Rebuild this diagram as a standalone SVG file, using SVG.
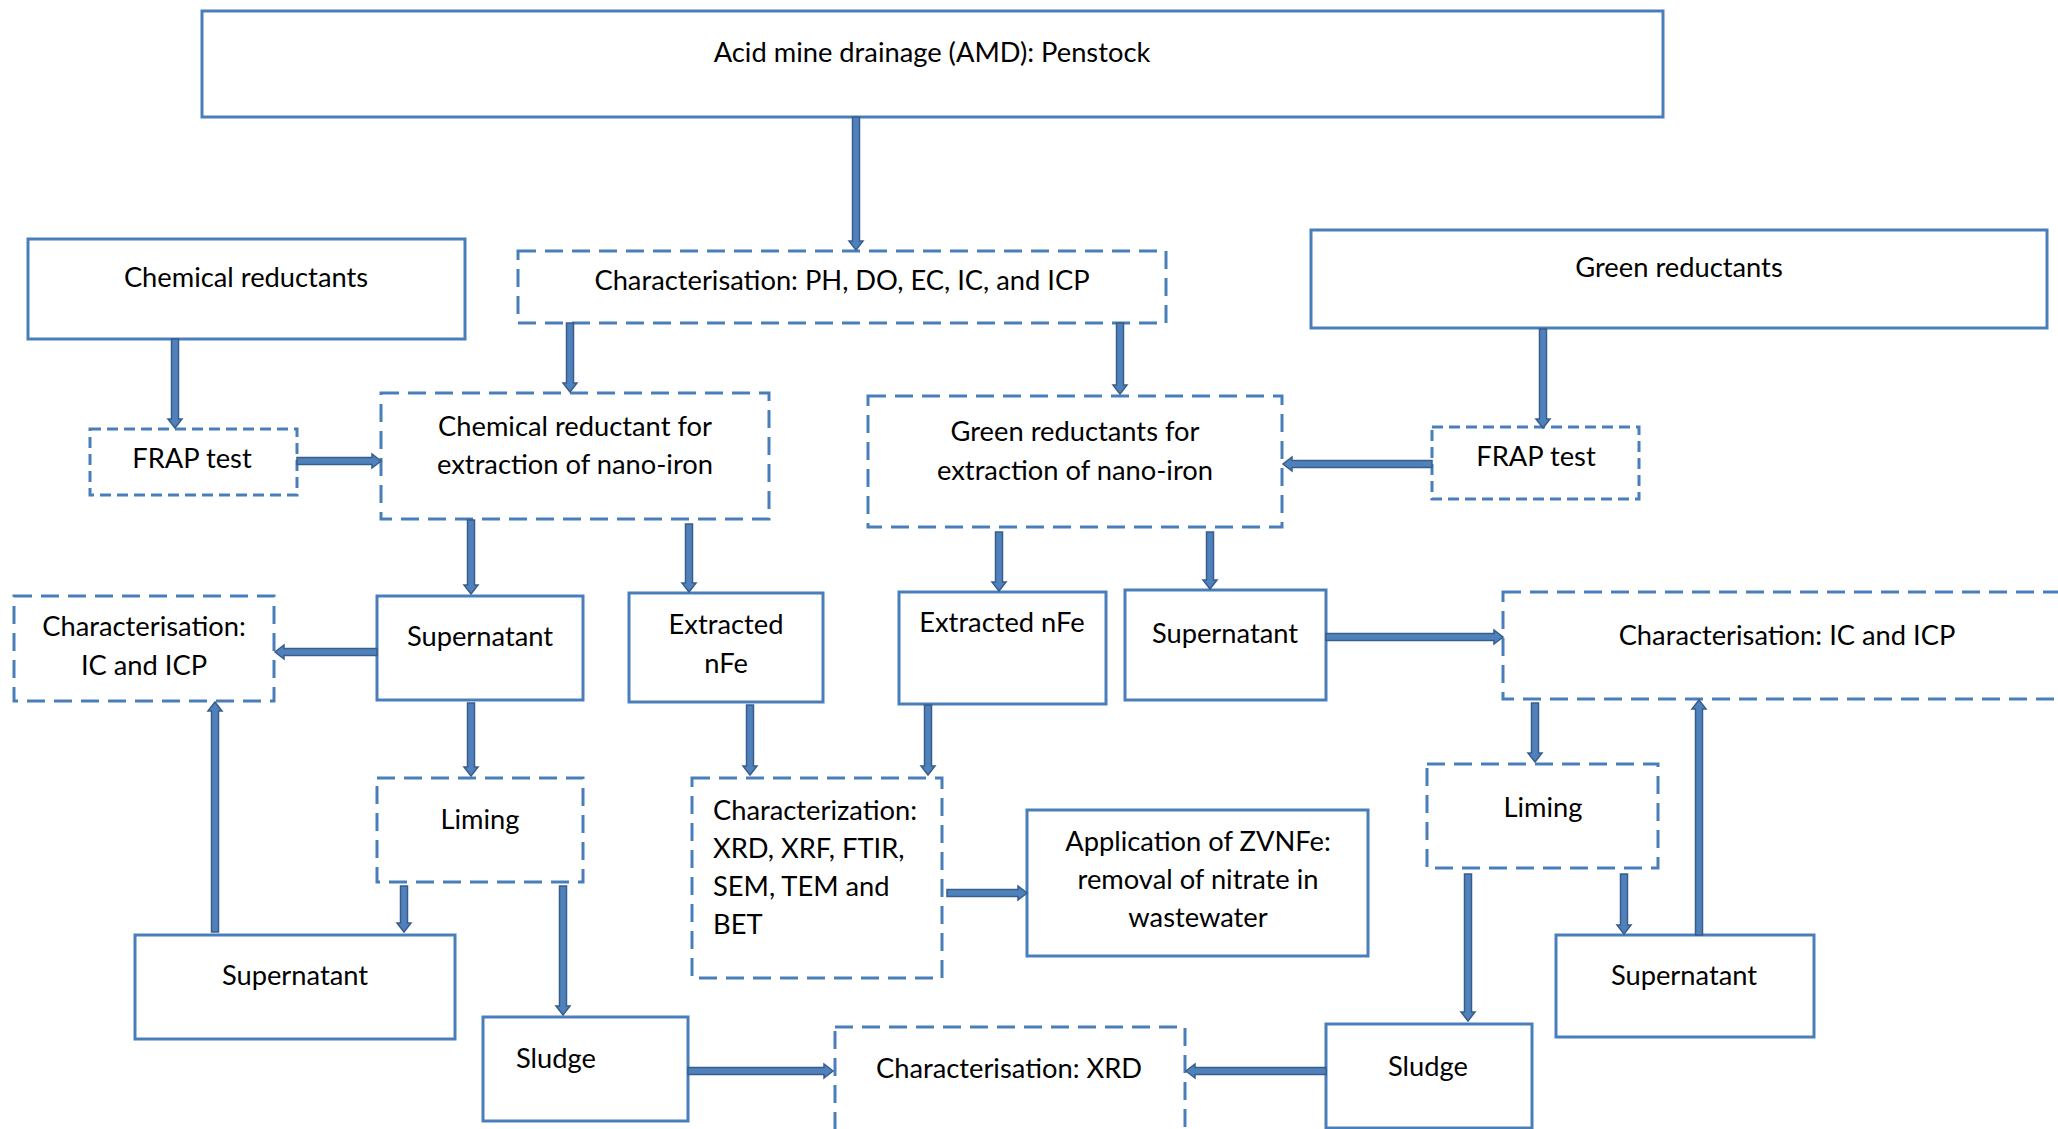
<svg xmlns="http://www.w3.org/2000/svg" width="2058" height="1129" viewBox="0 0 2058 1129">
<style>
.box{fill:#fff;stroke:#4A7EBB;stroke-width:3}
.dash{fill:#fff;stroke:#4A7EBB;stroke-width:3;stroke-dasharray:18 9}
.dsm{fill:#fff;stroke:#4A7EBB;stroke-width:3;stroke-dasharray:11 6}
.arr{fill:#4F81BD;stroke:#385D8A;stroke-width:1.5;stroke-linejoin:miter}
text{font-family:Lato,"Open Sans","Liberation Sans",sans-serif;font-size:27.3px;fill:#000}
.c{text-anchor:middle}
</style>
<rect width="2058" height="1129" fill="#fff"/>
<g id="n-amd"><rect class="box" x="202" y="11" width="1461" height="106"/><text class="c" x="932" y="62">Acid mine drainage (AMD): Penstock</text></g>
<g id="n-chemred"><rect class="box" x="28" y="239" width="437" height="100"/><text class="c" x="246" y="287">Chemical reductants</text></g>
<g id="n-charph"><rect class="dash" x="518" y="251" width="648" height="72"/><text class="c" x="842" y="290">Characterisation: PH, DO, EC, IC, and ICP</text></g>
<g id="n-greenred"><rect class="box" x="1311" y="230" width="736" height="98"/><text class="c" x="1679" y="277">Green reductants</text></g>
<g id="n-frapL"><rect class="dsm" x="90" y="429" width="207" height="66"/><text class="c" x="192" y="468">FRAP test</text></g>
<g id="n-chemfor"><rect class="dash" x="381" y="393" width="388" height="126"/><text class="c" x="575" y="436">Chemical reductant for</text><text class="c" x="575" y="474">extraction of nano-iron</text></g>
<g id="n-greenfor"><rect class="dash" x="868" y="396" width="414" height="131"/><text class="c" x="1075" y="441">Green reductants for</text><text class="c" x="1075" y="480">extraction of nano-iron</text></g>
<g id="n-frapR"><rect class="dsm" x="1432" y="427" width="207" height="72"/><text class="c" x="1536" y="466">FRAP test</text></g>
<g id="n-charicL"><rect class="dash" x="14" y="596" width="260" height="105"/><text class="c" x="144" y="636">Characterisation:</text><text class="c" x="144" y="675">IC and ICP</text></g>
<g id="n-supUL"><rect class="box" x="377" y="596" width="206" height="104"/><text class="c" x="480" y="646">Supernatant</text></g>
<g id="n-extL"><rect class="box" x="629" y="593" width="194" height="109"/><text class="c" x="726" y="634">Extracted</text><text class="c" x="726" y="673">nFe</text></g>
<g id="n-extR"><rect class="box" x="899" y="592" width="207" height="112"/><text class="c" x="1002" y="632">Extracted nFe</text></g>
<g id="n-supMR"><rect class="box" x="1125" y="590" width="201" height="110"/><text class="c" x="1225" y="643">Supernatant</text></g>
<g id="n-charicR"><rect class="dash" x="1503" y="592" width="600" height="107"/><text class="c" x="1787" y="645">Characterisation: IC and ICP</text></g>
<g id="n-limL"><rect class="dash" x="377" y="778" width="206" height="104"/><text class="c" x="480" y="829">Liming</text></g>
<g id="n-charxrd"><rect class="dash" x="692" y="778" width="250" height="200"/><text x="713" y="820">Characterization:</text><text x="713" y="858">XRD, XRF, FTIR,</text><text x="713" y="896">SEM, TEM and</text><text x="713" y="934">BET</text></g>
<g id="n-app"><rect class="box" x="1027" y="810" width="341" height="146"/><text class="c" x="1198" y="851">Application of ZVNFe:</text><text class="c" x="1198" y="889">removal of nitrate in</text><text class="c" x="1198" y="927">wastewater</text></g>
<g id="n-supBL"><rect class="box" x="135" y="935" width="320" height="104"/><text class="c" x="295" y="985">Supernatant</text></g>
<g id="n-sludgeL"><rect class="box" x="483" y="1017" width="205" height="104"/><text class="c" x="556" y="1068">Sludge</text></g>
<g id="n-xrd"><rect class="dash" x="835" y="1027" width="350" height="120"/><text class="c" x="1009" y="1078">Characterisation: XRD</text></g>
<g id="n-sludgeR"><rect class="box" x="1326" y="1024" width="206" height="104"/><text class="c" x="1428" y="1076">Sludge</text></g>
<g id="n-limR"><rect class="dash" x="1427" y="764" width="231" height="104"/><text class="c" x="1543" y="817">Liming</text></g>
<g id="n-supBR"><rect class="box" x="1556" y="935" width="258" height="102"/><text class="c" x="1684" y="985">Supernatant</text></g>
<g id="connectors">
<path class="arr" d="M852.5 117 H859.5 V241 H863 L856 250 L849 241 H852.5 Z"/>
<path class="arr" d="M171.5 339 H178.5 V419 H182 L175 428 L168 419 H171.5 Z"/>
<path class="arr" d="M297 457.5 V464.5 H372 V468 L381 461 L372 454 V457.5 Z"/>
<path class="arr" d="M566.5 323 H573.5 V383 H577 L570 392 L563 383 H566.5 Z"/>
<path class="arr" d="M1116.5 323 H1123.5 V385 H1127 L1120 394 L1113 385 H1116.5 Z"/>
<path class="arr" d="M1539.5 329 H1546.5 V419 H1550 L1543 428 L1536 419 H1539.5 Z"/>
<path class="arr" d="M1432 460.5 V467.5 H1292 V471 L1283 464 L1292 457 V460.5 Z"/>
<path class="arr" d="M467.5 520 H474.5 V585 H478 L471 594 L464 585 H467.5 Z"/>
<path class="arr" d="M685.5 524 H692.5 V583 H696 L689 592 L682 583 H685.5 Z"/>
<path class="arr" d="M995.5 532 H1002.5 V582 H1006 L999 591 L992 582 H995.5 Z"/>
<path class="arr" d="M1206.5 532 H1213.5 V580 H1217 L1210 589 L1203 580 H1206.5 Z"/>
<path class="arr" d="M377 648.5 V655.5 H284 V659 L275 652 L284 645 V648.5 Z"/>
<path class="arr" d="M1326 633.5 V640.5 H1494 V644 L1503 637 L1494 630 V633.5 Z"/>
<path class="arr" d="M467.5 703 H474.5 V767 H478 L471 776 L464 767 H467.5 Z"/>
<path class="arr" d="M746.5 705 H753.5 V766 H757 L750 775 L743 766 H746.5 Z"/>
<path class="arr" d="M924.5 705 H931.5 V766 H935 L928 775 L921 766 H924.5 Z"/>
<path class="arr" d="M947 889.5 V896.5 H1018 V900 L1027 893 L1018 886 V889.5 Z"/>
<path class="arr" d="M400.5 886 H407.5 V923 H411 L404 932 L397 923 H400.5 Z"/>
<path class="arr" d="M211.5 932 H218.5 V711 H222 L215 702 L208 711 H211.5 Z"/>
<path class="arr" d="M559.5 886 H566.5 V1006 H570 L563 1015 L556 1006 H559.5 Z"/>
<path class="arr" d="M688 1067.5 V1074.5 H824 V1078 L833 1071 L824 1064 V1067.5 Z"/>
<path class="arr" d="M1326 1067.5 V1074.5 H1195 V1078 L1186 1071 L1195 1064 V1067.5 Z"/>
<path class="arr" d="M1531.5 703 H1538.5 V753 H1542 L1535 762 L1528 753 H1531.5 Z"/>
<path class="arr" d="M1464.5 874 H1471.5 V1012 H1475 L1468 1021 L1461 1012 H1464.5 Z"/>
<path class="arr" d="M1620.5 874 H1627.5 V925 H1631 L1624 934 L1617 925 H1620.5 Z"/>
<path class="arr" d="M1695.5 935 H1702.5 V709 H1706 L1699 700 L1692 709 H1695.5 Z"/>
</g>
</svg>
